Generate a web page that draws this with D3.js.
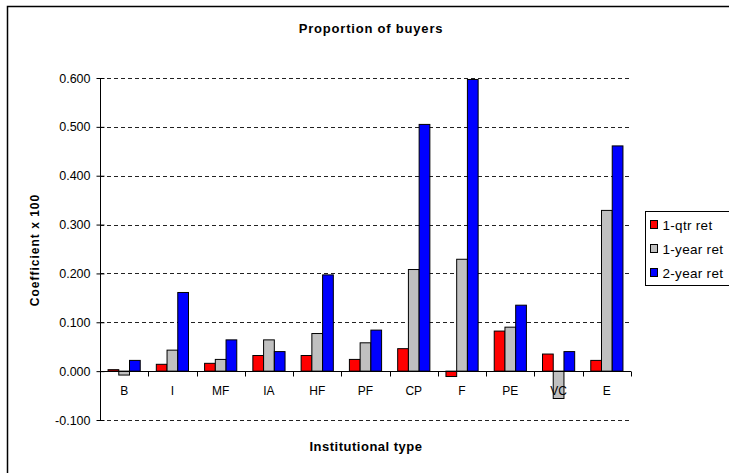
<!DOCTYPE html>
<html lang="en">
<head>
<meta charset="utf-8">
<title>Proportion of buyers</title>
<script src="https://cdn.jsdelivr.net/npm/d3@7"></script>
<style>
	body { margin: 0; background: #fff; }
	svg { font-family: "Liberation Sans", Arial, sans-serif; }
</style>
</head>
<body>
<script>
var categories = ["B", "I", "MF", "IA", "HF", "PF", "CP", "F", "PE", "VC", "E"];
var seriesNames = ["1-qtr ret", "1-year ret", "2-year ret"];
var qtrRet  = [0.003, 0.014, 0.016, 0.032, 0.032, 0.024, 0.046, -0.011, 0.082, 0.035, 0.022];
var yearRet = [-0.008, 0.043, 0.024, 0.064, 0.077, 0.058, 0.208, 0.229, 0.090, -0.056, 0.329];
var twoYearRet = [0.022, 0.161, 0.064, 0.040, 0.197, 0.084, 0.505, 0.597, 0.135, 0.040, 0.461];
var yTicks = [-0.1, 0, 0.1, 0.2, 0.3, 0.4, 0.5, 0.6];
var colors = ["#ff0000", "#c0c0c0", "#0000ff"];

var w = 729, h = 473;
var plot = {left: 100, right: 631, top: 78, bottom: 420};

var svg = d3.select("body").append("svg")
	.attr("width", w)
	.attr("height", h);

// outer chart frame
svg.append("rect")
	.attr("x", 7.5).attr("y", 6.5)
	.attr("width", 740).attr("height", 480)
	.attr("fill", "none").attr("stroke", "#000").attr("stroke-width", 1.5);

var x = d3.scaleBand().domain(categories).range([plot.left, plot.right]).padding(0);
var y = d3.scaleLinear().domain([-0.1, 0.6]).range([plot.bottom, plot.top]);

var barW = x.bandwidth() / 4.5;
var groupOff = barW * 0.75;

// gridlines
svg.append("g").selectAll("line")
	.data(yTicks.filter(function(d){ return d !== 0; }))
	.enter().append("line")
	.attr("x1", plot.left).attr("x2", plot.right)
	.attr("y1", function(d){ return Math.round(y(d)) + 0.5; })
	.attr("y2", function(d){ return Math.round(y(d)) + 0.5; })
	.attr("stroke", "#222")
	.attr("stroke-dasharray", "4,3");

// y axis (ticks cross the axis line)
var fmt = d3.format(".3f");
var yAxis = d3.axisLeft(y).tickValues(yTicks).tickSize(0).tickPadding(10)
	.tickFormat(function(d){ return fmt(d).replace("\u2212", "-"); });
var gy = svg.append("g")
	.attr("transform", "translate(" + (plot.left + 0.5) + ",0)")
	.call(yAxis);
gy.selectAll("text").attr("font-size", "12.5px").attr("fill", "#000");
gy.select(".domain").attr("d", "M0," + plot.bottom + "V" + plot.top).attr("stroke", "#000");
gy.selectAll(".tick line").attr("x1", -4).attr("x2", 4).attr("stroke", "#000");

// bars
var allSeries = [qtrRet, yearRet, twoYearRet];
allSeries.forEach(function(vals, s){
	svg.append("g").selectAll("rect")
		.data(vals)
		.enter().append("rect")
		.attr("x", function(d, i){ return x(categories[i]) + groupOff + s * barW; })
		.attr("y", function(d){ return y(Math.max(d, 0)); })
		.attr("width", barW)
		.attr("height", function(d){ return Math.abs(y(d) - y(0)); })
		.attr("fill", colors[s])
		.attr("stroke", "#000")
		.attr("stroke-width", 1);
});

// zero line with category ticks
var xAxis = d3.axisBottom(x).tickSize(0).tickPadding(15);
var gx = svg.append("g")
	.attr("transform", "translate(0," + (Math.round(y(0)) + 0.5) + ")")
	.call(xAxis);
gx.select(".domain").attr("d", "M" + plot.left + ",0H" + plot.right).attr("stroke", "#000");
gx.selectAll("text").attr("font-size", "12px").attr("fill", "#000");
gx.append("g").selectAll("line")
	.data(d3.range(categories.length + 1))
	.enter().append("line")
	.attr("x1", function(i){ return Math.round(plot.left + i * x.step()) + 0.5; })
	.attr("x2", function(i){ return Math.round(plot.left + i * x.step()) + 0.5; })
	.attr("y1", 0).attr("y2", 5)
	.attr("stroke", "#000");

// titles
svg.append("text")
	.attr("x", 371).attr("y", 33)
	.attr("text-anchor", "middle")
	.attr("font-size", "13px").attr("font-weight", "bold")
	.attr("letter-spacing", "0.8px")
	.text("Proportion of buyers");

svg.append("text")
	.attr("x", 366).attr("y", 451)
	.attr("text-anchor", "middle")
	.attr("font-size", "13px").attr("font-weight", "bold")
	.attr("letter-spacing", "0.5px")
	.text("Institutional type");

svg.append("text")
	.attr("transform", "translate(39,250) rotate(-90)")
	.attr("text-anchor", "middle")
	.attr("font-size", "12px").attr("font-weight", "bold")
	.attr("letter-spacing", "1px")
	.text("Coefficient x 100");

// legend
var legend = svg.append("g").attr("transform", "translate(645.5,211.5)");
legend.append("rect")
	.attr("width", 90).attr("height", 74)
	.attr("fill", "#fff").attr("stroke", "#000");
var items = legend.selectAll("g.item")
	.data(seriesNames)
	.enter().append("g")
	.attr("class", "item")
	.attr("transform", function(d, i){ return "translate(5," + (13 + i * 24) + ")"; });
items.append("rect")
	.attr("x", 0).attr("y", -4)
	.attr("width", 7).attr("height", 8)
	.attr("fill", function(d, i){ return colors[i]; })
	.attr("stroke", "#000");
items.append("text")
	.attr("x", 12).attr("y", 5)
	.attr("font-size", "13.5px")
	.attr("letter-spacing", "0.3px")
	.text(function(d){ return d; });
</script>
</body>
</html>
